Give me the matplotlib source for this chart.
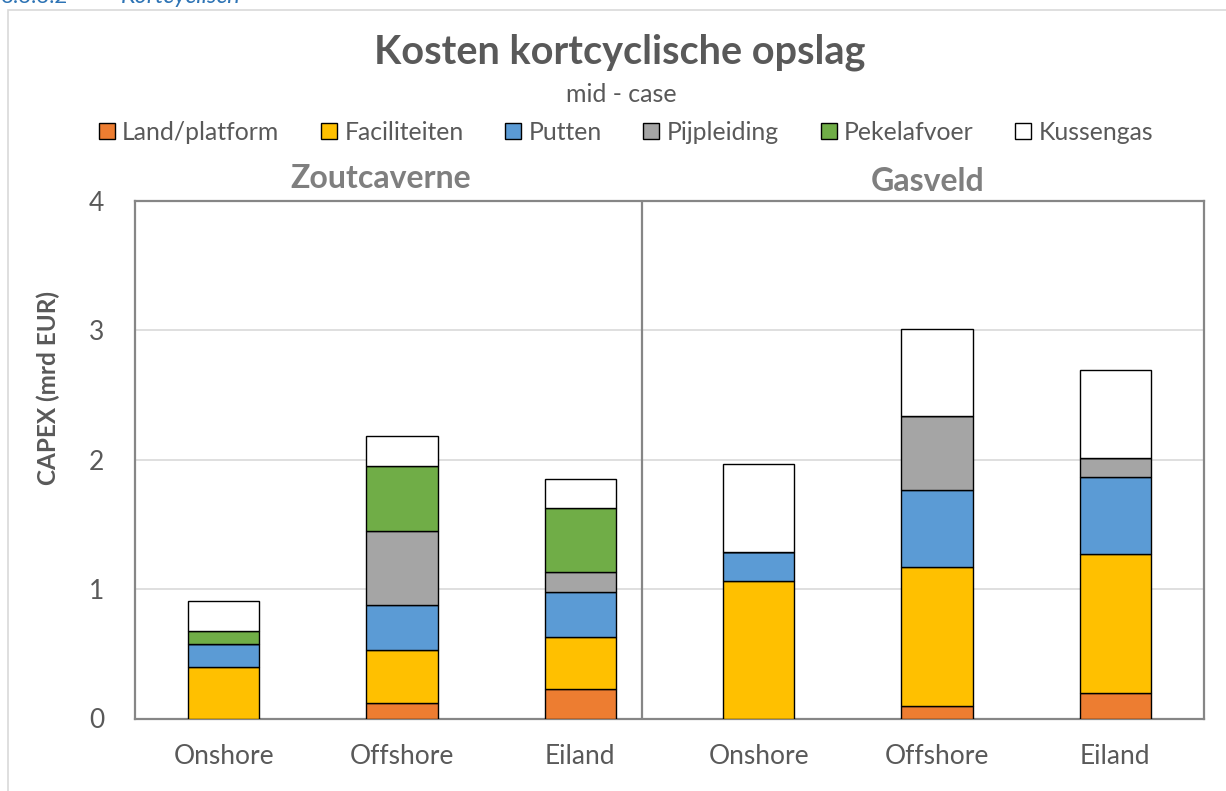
import matplotlib
matplotlib.use("Agg")
import matplotlib.pyplot as plt
from matplotlib.patches import Rectangle, Patch
import numpy as np

plt.rcParams['font.family'] = ['Lato', 'DejaVu Sans']

# categories (x axis) and groups
categories = ['Onshore', 'Offshore', 'Eiland', 'Onshore', 'Offshore', 'Eiland']
groups = ['Zoutcaverne', 'Gasveld']

# stacked components, mrd EUR
land_platform = [0.00, 0.12, 0.23, 0.00, 0.095, 0.20]
faciliteiten  = [0.40, 0.41, 0.40, 1.06, 1.075, 1.07]
putten        = [0.175, 0.35, 0.35, 0.225, 0.595, 0.595]
pijpleiding   = [0.00, 0.57, 0.15, 0.00, 0.57, 0.145]
pekelafvoer   = [0.105, 0.50, 0.50, 0.00, 0.00, 0.00]
kussengas     = [0.23, 0.23, 0.22, 0.68, 0.675, 0.68]

series_names = ['Land/platform', 'Faciliteiten', 'Putten', 'Pijpleiding', 'Pekelafvoer', 'Kussengas']
series_vals = [land_platform, faciliteiten, putten, pijpleiding, pekelafvoer, kussengas]
colors = ['#ED7D31', '#FFC000', '#5B9BD5', '#A5A5A5', '#70AD47', '#FFFFFF']

W, H = 1226, 791
fig = plt.figure(figsize=(W / 100, H / 100), dpi=100)
ax = fig.add_axes([134.7 / W, (H - 718.5) / H, 1069.6 / W, 517.5 / H])

x = np.arange(len(categories))
bottom = np.zeros(len(categories))
for name, vals, c in zip(series_names, series_vals, colors):
    ax.bar(x, vals, width=0.4, bottom=bottom, color=c, edgecolor='black',
           linewidth=1.0, label=name, zorder=3)
    bottom += np.array(vals)

ax.set_xlim(-0.5, 5.5)
ax.set_ylim(0, 4)
ax.set_yticks([0, 1, 2, 3, 4])
ax.set_xticks(x)
ax.set_xticklabels(categories)
ax.tick_params(axis='both', length=0, labelsize=19, labelcolor='#595959')
ax.tick_params(axis='y', pad=22)
ax.tick_params(axis='x', pad=18)
ax.yaxis.grid(True, color='#D9D9D9', linewidth=1.2, zorder=0)
ax.set_axisbelow(True)
for s in ax.spines.values():
    s.set_color('#868686')
    s.set_linewidth(1.6)

# divider between the two panels
ax.axvline(2.344, color='#868686', linewidth=1.6, zorder=4)

# panel titles
ax.text(0.88, 4.06, groups[0], ha='center', va='bottom', fontsize=23,
        fontweight='bold', color='#7F7F7F')
ax.text(3.95, 4.04, groups[1], ha='center', va='bottom', fontsize=23,
        fontweight='bold', color='#7F7F7F')

fig.text(48 / W, (H - 388) / H, 'CAPEX (mrd EUR)', rotation=90, ha='center',
         va='center', fontsize=17.5, fontweight='bold', color='#595959')

# titles
fig.text(620 / W, (H - 52) / H, 'Kosten kortcyclische opslag', ha='center',
         va='center', fontsize=28.5, fontweight='bold', color='#595959')
fig.text(621 / W, (H - 95) / H, 'mid - case', ha='center', va='center',
         fontsize=18, color='#595959')

handles = [Patch(facecolor=c, edgecolor='black', linewidth=1.0) for c in colors]
fig.legend(handles, series_names, loc='center', bbox_to_anchor=(626 / W, (H - 132) / H),
           ncol=6, frameon=False, fontsize=17.8, handlelength=0.65, handleheight=0.65,
           handletextpad=0.3, columnspacing=1.68, labelcolor='#595959')

# outer chart border and clipped page heading
fig.add_artist(Rectangle((8 / W, -0.05), 1.1, (H - 10) / H + 0.05,
                         transform=fig.transFigure, fill=False,
                         edgecolor='#D9D9D9', linewidth=1.2))
fig.text(0 / W, (H - 3) / H, '3.3.3.2', ha='left', va='baseline',
         fontsize=16, color='#2E74B5')
fig.text(121 / W, (H - 3) / H, 'Kortcyclisch', ha='left', va='baseline',
         fontsize=17, color='#2E74B5', style='italic')

fig.savefig('out.png', dpi=100)
